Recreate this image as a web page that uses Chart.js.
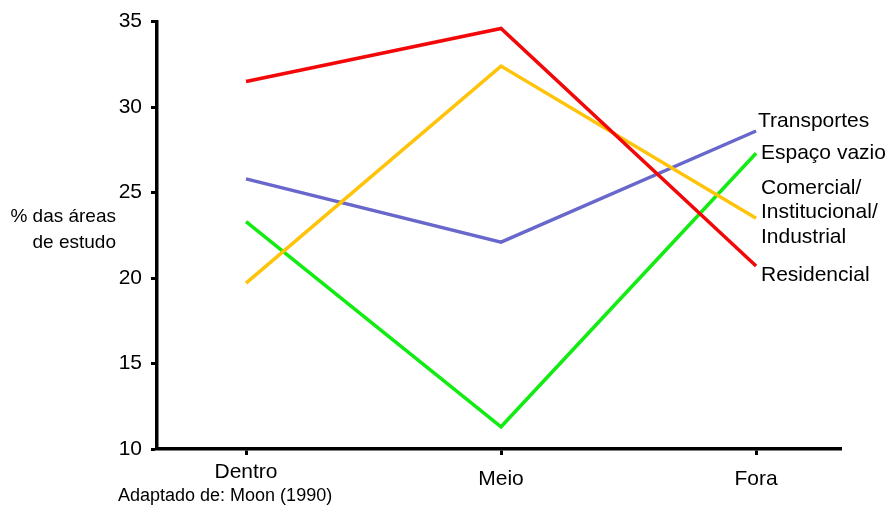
<!DOCTYPE html>
<html>
<head>
<meta charset="utf-8">
<script src="https://cdn.jsdelivr.net/npm/chart.js@4"></script>
<style>
  html, body { margin: 0; padding: 0; background: #fff; }
  #wrap { width: 889px; height: 506px; position: relative; }
</style>
</head>
<body>
<div id="wrap"><canvas id="graficoAreas"></canvas></div>
<script>
// posição relativa ao centro: dentro, meio, fora
const categorias = ['Dentro', 'Meio', 'Fora'];
const residencial = [31.5, 34.6, 20.7];
const comercial = [19.7, 32.4, 23.5];
const transportes = [25.8, 22.1, 28.6];
const espacoVazio = [23.3, 11.3, 27.3];
const yTicks = [10, 15, 20, 25, 30, 35];

const FONTE = '"Liberation Sans", Arial, sans-serif';

function pontos(valores) {
    return valores.map(function (v, i) { return { x: i, y: v }; });
}

// rótulos das séries à direita, título do eixo e fonte
const textos = {
    id: 'textos',
    afterDraw: function (chart) {
        const c = chart.ctx;
        c.save();
        c.fillStyle = '#000';
        c.textBaseline = 'middle';
        c.font = '21px ' + FONTE;
        c.textAlign = 'left';
        c.fillText('Transportes', 758, 121);
        c.fillText('Espaço vazio', 761, 153);
        c.fillText('Comercial/', 761, 188);
        c.fillText('Institucional/', 761, 212);
        c.fillText('Industrial', 761, 237);
        c.fillText('Residencial', 761, 275);

        c.font = '19px ' + FONTE;
        c.textAlign = 'right';
        c.fillText('% das áreas', 116, 217);
        c.fillText('de estudo', 116, 243);

        c.font = '18px ' + FONTE;
        c.textAlign = 'left';
        c.fillText('Adaptado de: Moon (1990)', 118, 496);
        c.restore();
    }
};

const serie = function (label, valores, cor) {
    return {
        label: label,
        data: pontos(valores),
        borderColor: cor,
        backgroundColor: cor,
        borderWidth: 3.5,
        pointRadius: 0,
        tension: 0,
        fill: false
    };
};

new Chart(document.getElementById('graficoAreas'), {
    type: 'line',
    data: {
        datasets: [
            serie('Residencial', residencial, '#f20808'),
            serie('Comercial/Institucional/Industrial', comercial, '#ffc40a'),
            serie('Transportes', transportes, '#6868cc'),
            serie('Espaço vazio', espacoVazio, '#12ec12')
        ]
    },
    options: {
        responsive: true,
        maintainAspectRatio: false,
        animation: false,
        layout: { padding: { top: 21, right: 48, left: 0, bottom: 0 } },
        plugins: {
            legend: { display: false },
            tooltip: { enabled: false }
        },
        scales: {
            x: {
                type: 'linear',
                min: -0.349,
                max: 2.333,
                afterBuildTicks: function (scale) {
                    scale.ticks = categorias.map(function (c, i) { return { value: i }; });
                },
                afterFit: function (scale) { scale.height = 57; },
                grid: { drawOnChartArea: false, drawTicks: true, tickLength: 6, tickWidth: 3, color: '#000' },
                border: { display: true, color: '#000', width: 3.5 },
                ticks: {
                    color: '#000',
                    padding: 12,
                    maxRotation: 0,
                    font: function (ctx) {
                        // "Dentro" fica um pouco mais alto que os outros
                        return { family: FONTE, size: 21, lineHeight: ctx.index === 0 ? 0.5 : 1.2 };
                    },
                    callback: function (v) { return categorias[v]; }
                }
            },
            y: {
                min: 10,
                max: 35,
                afterBuildTicks: function (scale) {
                    scale.ticks = yTicks.map(function (v) { return { value: v }; });
                },
                afterFit: function (scale) { scale.width = 157; },
                grid: { drawOnChartArea: false, drawTicks: true, tickLength: 6, tickWidth: 3, color: '#000' },
                border: { display: true, color: '#000', width: 3.5 },
                ticks: {
                    color: '#000',
                    padding: 9,
                    font: { family: FONTE, size: 21 }
                }
            }
        }
    },
    plugins: [textos]
});
</script>
</body>
</html>
